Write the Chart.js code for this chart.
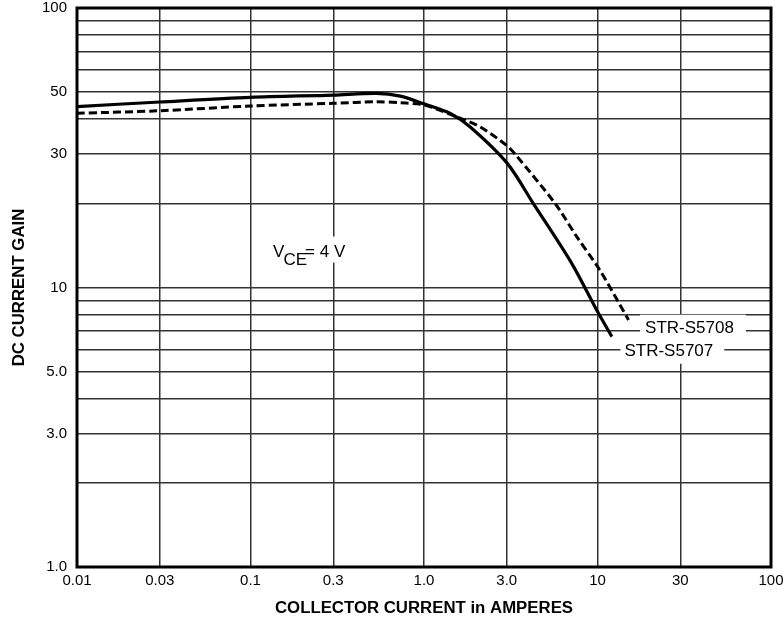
<!DOCTYPE html>
<html>
<head>
<meta charset="utf-8">
<script src="https://cdn.jsdelivr.net/npm/chart.js@4.4.0/dist/chart.umd.min.js"></script>
<style>
  html, body { margin: 0; padding: 0; background: #fff; }
  canvas { display: block; }
</style>
</head>
<body>
<canvas id="gainChart" width="784" height="619"></canvas>
<script>
// Collector current (A) and DC current gain
const s5707Current = [0.01, 0.03, 0.1, 0.3, 0.53, 0.73, 1.0, 1.41, 1.84, 3.02, 4.26, 7.1, 10, 12.1];
const s5707Gain = [44.4, 46.1, 47.9, 48.8, 49.5, 48.4, 45.4, 42.0, 37.6, 27.8, 20.0, 12.2, 8.2, 6.67];

const s5708Current = [0.01, 0.03, 0.1, 0.3, 0.53, 0.73, 1.0, 1.54, 2.1, 3.0, 3.35, 5.69, 7.59, 10.3, 15.1];
const s5708Gain = [42.0, 42.9, 44.6, 45.6, 46.2, 45.8, 45.0, 40.8, 37.6, 32.2, 30.0, 20.0, 15.2, 11.55, 7.65];

// Axis ticks
const xTicks = [0.01, 0.03, 0.1, 0.3, 1, 3, 10, 30, 100];
const xTickLabels = ['0.01', '0.03', '0.1', '0.3', '1.0', '3.0', '10', '30', '100'];
const yGridValues = [1, 2, 3, 4, 5, 6, 7, 8, 9, 10, 20, 30, 40, 50, 60, 70, 80, 90, 100];
const yLabelValues = [1, 3, 5, 10, 30, 50, 100];
const yLabelTexts = ['1.0', '3.0', '5.0', '10', '30', '50', '100'];

const seriesNames = ['STR-S5707', 'STR-S5708'];

const FONT = '"Liberation Sans", Arial, Helvetica, sans-serif';
Chart.defaults.font.family = FONT;
Chart.defaults.color = '#000';

function toPoints(xs, ys) {
    return xs.map((v, i) => ({ x: v, y: ys[i] }));
}

// no extra padding from tick labels, layout.padding decides the plot box
function clearPadding(s) {
    s.paddingTop = 0;
    s.paddingBottom = 0;
    s.paddingLeft = 0;
    s.paddingRight = 0;
}

// Text labels inside the plot, drawn on white boxes that hide the grid
const notesPlugin = {
    id: 'notes',
    beforeDatasetsDraw(chart) {
        const { ctx, scales: { x, y } } = chart;
        ctx.save();
        ctx.font = '17px ' + FONT;
        ctx.textBaseline = 'middle';
        ctx.textAlign = 'left';

        // curve names
        const names = [
            { text: seriesNames[1], xv: 18.8, yv: 7.18, padL: 5, padR: 12 },
            { text: seriesNames[0], xv: 14.3, yv: 5.94, padL: 4, padR: 11 }
        ];
        names.forEach(n => {
            const px = x.getPixelForValue(n.xv);
            const py = y.getPixelForValue(n.yv);
            const w = ctx.measureText(n.text).width;
            ctx.fillStyle = '#fff';
            ctx.fillRect(px - n.padL, py - 13, w + n.padL + n.padR, 26);
        });
        names.forEach(n => {
            const px = x.getPixelForValue(n.xv);
            const py = y.getPixelForValue(n.yv);
            ctx.fillStyle = '#000';
            ctx.fillText(n.text, px, py + 1);
        });

        // V_CE = 4 V
        ctx.textBaseline = 'alphabetic';
        const vx = x.getPixelForValue(0.135);
        const vy = y.getPixelForValue(12.9);
        const wV = ctx.measureText('V').width;
        const wCE = ctx.measureText('CE').width;
        const wRest = ctx.measureText('= 4 V').width;
        ctx.fillStyle = '#fff';
        ctx.fillRect(vx - 3, vy - 20, wV + wCE + wRest + 3, 26);
        ctx.fillStyle = '#000';
        ctx.fillText('V', vx, vy);
        ctx.fillText('CE', vx + wV - 1, vy + 8);
        ctx.fillText('= 4 V', vx + wV + wCE - 3, vy);
        ctx.restore();
    },
    afterDraw(chart) {
        const { ctx, chartArea: a } = chart;
        ctx.save();
        ctx.strokeStyle = '#000';
        ctx.lineWidth = 3;
        ctx.strokeRect(a.left, a.top, a.right - a.left, a.bottom - a.top);
        ctx.restore();
    }
};

function renderGainChart() {
    const ctx = document.getElementById('gainChart').getContext('2d');

    new Chart(ctx, {
        type: 'line',
        data: {
            datasets: [{
                label: seriesNames[0],
                data: toPoints(s5707Current, s5707Gain),
                borderColor: '#000',
                borderWidth: 3.2,
                pointRadius: 0,
                fill: false,
                tension: 0.3
            }, {
                label: seriesNames[1],
                data: toPoints(s5708Current, s5708Gain),
                borderColor: '#000',
                borderWidth: 3,
                borderDash: [8, 4],
                pointRadius: 0,
                fill: false,
                tension: 0.3
            }]
        },
        options: {
            responsive: false,
            animation: false,
            layout: { padding: { top: 8, right: 13, left: 0, bottom: 0 } },
            plugins: {
                legend: { display: false },
                tooltip: { enabled: false }
            },
            scales: {
                x: {
                    type: 'logarithmic',
                    min: 0.01,
                    max: 100,
                    afterBuildTicks: s => { s.ticks = xTicks.map(v => ({ value: v })); },
                    afterFit: s => { s.height = 52; clearPadding(s); },
                    ticks: {
                        autoSkip: false,
                        maxRotation: 0,
                        padding: 6,
                        color: '#000',
                        font: { size: 15, lineHeight: 1 },
                        callback: (v, i) => xTickLabels[i]
                    },
                    grid: { color: '#333', lineWidth: 1.5, drawTicks: false },
                    border: { display: false },
                    title: {
                        display: true,
                        text: 'COLLECTOR CURRENT in AMPERES',
                        color: '#000',
                        font: { size: 16.8, weight: 'bold' },
                        padding: { top: 0, bottom: 1 }
                    }
                },
                y: {
                    type: 'logarithmic',
                    min: 1,
                    max: 100,
                    afterBuildTicks: s => { s.ticks = yGridValues.map(v => ({ value: v })); },
                    afterFit: s => { s.width = 77; clearPadding(s); },
                    ticks: {
                        autoSkip: false,
                        padding: 10,
                        color: '#000',
                        font: { size: 15, lineHeight: 1 },
                        callback: v => {
                            const i = yLabelValues.indexOf(v);
                            return i >= 0 ? yLabelTexts[i] : '';
                        }
                    },
                    grid: { color: '#333', lineWidth: 1.5, drawTicks: false },
                    border: { display: false },
                    title: {
                        display: true,
                        text: 'DC CURRENT GAIN',
                        color: '#000',
                        font: { size: 16.8, weight: 'bold' },
                        padding: { top: 9, bottom: 0 }
                    }
                }
            }
        },
        plugins: [notesPlugin]
    });
}

renderGainChart();
</script>
</body>
</html>
